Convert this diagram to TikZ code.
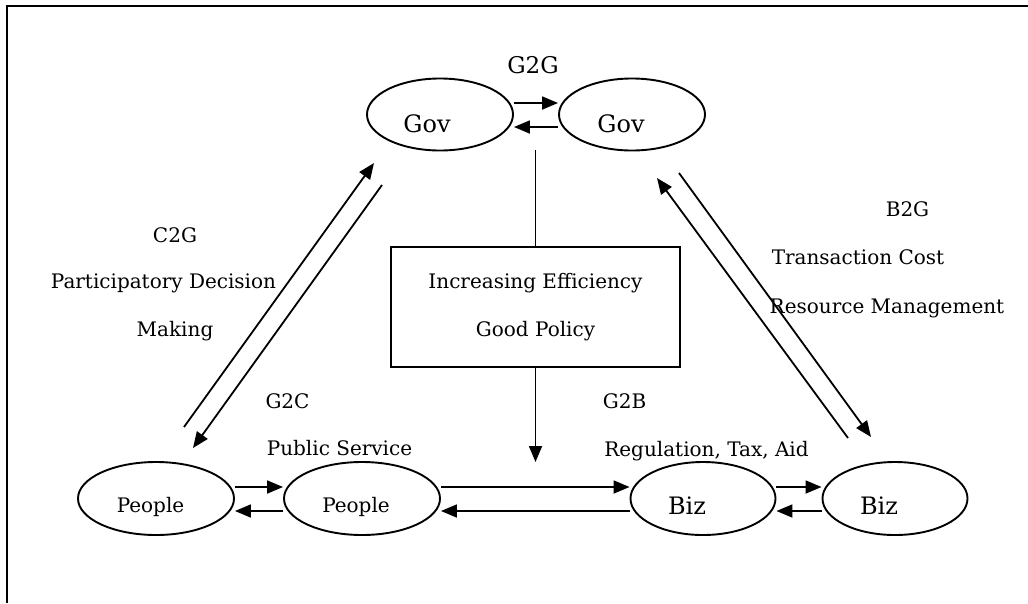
\documentclass[tikz,border=0pt]{standalone}
\usepackage{fontspec}
\setmainfont{DejaVu Serif}
\usetikzlibrary{arrows.meta,shapes.geometric}
\begin{document}
\begin{tikzpicture}[x=1pt,y=-1pt,
  ell/.style={draw,ellipse,line width=1.9pt,inner sep=0pt},
  arr/.style={line width=1.8pt,-{Triangle[length=16pt,width=13pt]}},
  plain/.style={line width=1.8pt},
  lbl/.style={font=\fontsize{20}{24}\selectfont,anchor=base,inner sep=0pt},
  big/.style={font=\fontsize{24}{28}\selectfont,anchor=base,inner sep=0pt}]
\useasboundingbox (0,0) rectangle (1028,603);
\draw[line width=2.4pt] (7,603) -- (7,6) -- (1028,6);

% ellipses
\node[ell,minimum width=146pt,minimum height=72pt] (gov1) at (440,114.5) {};
\node[ell,minimum width=146pt,minimum height=72pt] (gov2) at (632,114.5) {};
\node[ell,minimum width=156pt,minimum height=73pt] (ppl1) at (156,498.5) {};
\node[ell,minimum width=156pt,minimum height=73pt] (ppl2) at (362,498.5) {};
\node[ell,minimum width=145pt,minimum height=73pt] (biz1) at (703,498.5) {};
\node[ell,minimum width=145pt,minimum height=73pt] (biz2) at (895,498.5) {};

% ellipse texts
\node[big] (govt1) at (427,132) {Gov};
\node[big] (govt2) at (621,132) {Gov};
\node[lbl] (pplt1) at (150.5,512) {People};
\node[lbl] (pplt2) at (356,512) {People};
\node[big] (bizt1) at (687,514) {Biz};
\node[big] (bizt2) at (879,514) {Biz};

% horizontal arrows
\draw[arr] ([yshift=11.5pt]gov1.east) -- ([yshift=11.5pt]gov2.west);
\draw[arr] ([yshift=-12.5pt]gov2.west) -- ([yshift=-12.5pt]gov1.east);
\draw[arr] ([yshift=11.5pt]ppl1.east) -- ([yshift=11.5pt]ppl2.west);
\draw[arr] ([yshift=-12.5pt]ppl2.west) -- ([yshift=-12.5pt]ppl1.east);
\draw[arr] ([yshift=11.5pt]ppl2.east) -- ([yshift=11.5pt]biz1.west);
\draw[arr] ([yshift=-12.5pt]biz1.west) -- ([yshift=-12.5pt]ppl2.east);
\draw[arr] ([yshift=11.5pt]biz1.east) -- ([yshift=11.5pt]biz2.west);
\draw[arr] ([yshift=-12.5pt]biz2.west) -- ([yshift=-12.5pt]biz1.east);

% central box
\node[draw,line width=1.9pt,minimum width=289pt,minimum height=120pt,align=center,
      font=\fontsize{20}{48}\selectfont] (box) at (535.5,307) {Increasing Efficiency\\Good Policy};
\coordinate (vtop) at (535.5,150);
\coordinate (vbot) at (535.5,462);
\draw[plain] (vtop) -- (box.north);
\draw[arr] (box.south) -- (vbot);

% diagonal arrows
\coordinate (c2gS) at (184,427); \coordinate (c2gE) at (374,163);
\coordinate (g2cS) at (382,185); \coordinate (g2cE) at (193,448);
\coordinate (b2gS) at (848,438); \coordinate (b2gE) at (657,178);
\coordinate (g2bS) at (679,173); \coordinate (g2bE) at (871,437);
\draw[arr] (c2gS) -- (c2gE);
\draw[arr] (g2cS) -- (g2cE);
\draw[arr] (b2gS) -- (b2gE);
\draw[arr] (g2bS) -- (g2bE);

% labels
\node[font=\fontsize{23}{28}\selectfont,anchor=base,inner sep=0pt] (g2g) at (533,73) {G2G};
\node[lbl] (c2g) at (175,242) {C2G};
\node[lbl] (pd) at (163.5,288) {Participatory Decision};
\node[lbl] (mk) at (175,336) {Making};
\node[lbl] (g2c) at (287.5,408) {G2C};
\node[lbl] (ps) at (339.5,455) {Public Service};
\node[lbl] (g2b) at (624.5,408) {G2B};
\node[lbl] (rta) at (706.5,456) {Regulation, Tax, Aid};
\node[lbl] (b2g) at (907.5,216) {B2G};
\node[lbl] (tc) at (858,264) {Transaction Cost};
\node[lbl] (rm) at (887,313) {Resource Management};
\end{tikzpicture}
\end{document}
